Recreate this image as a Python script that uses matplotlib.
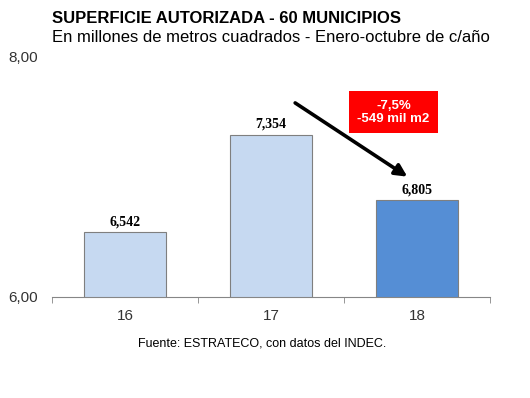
import matplotlib
matplotlib.use("Agg")
import matplotlib.pyplot as plt

years = ["16", "17", "18"]
values = [6.542, 7.354, 6.805]
value_labels = ["6,542", "7,354", "6,805"]
bar_colors = ["#C6D9F1", "#C6D9F1", "#558ED5"]
yticks = [6.0, 8.0]
ytick_labels = ["6,00", "8,00"]

plt.rcParams['font.family'] = ['Liberation Sans', 'DejaVu Sans']

fig = plt.figure(figsize=(5.3, 3.98), dpi=100)
ax = fig.add_axes([0.098, 0.2538, 0.8264, 0.603])

x = range(len(years))
ax.bar(x, values, width=0.56, color=bar_colors, edgecolor="#7F7F7F", linewidth=0.8)
for i, v in enumerate(values):
    ax.text(i, v + 0.03, value_labels[i], ha="center", va="bottom",
            family="Liberation Serif", fontweight="bold", fontsize=10)

ax.set_ylim(6.0, 8.0)
ax.set_xlim(-0.5, 2.5)
ax.set_yticks(yticks)
ax.set_yticklabels(ytick_labels, fontsize=11, color="#333333")
ax.set_xticks(x)
ax.set_xticklabels(years, fontsize=11, color="#333333")
ax.set_xticks([-0.5, 0.5, 1.5, 2.5], minor=True)
ax.tick_params(axis="x", which="major", length=0, pad=9)
ax.tick_params(axis="x", which="minor", length=4, color="#868686", direction="out")
ax.tick_params(axis="y", length=0, pad=10)
for s in ["top", "right", "left"]:
    ax.spines[s].set_visible(False)
ax.spines["bottom"].set_color("#868686")

# arrow and change box
ax.annotate("", xy=(1.95, 6.99), xytext=(1.15, 7.63),
            arrowprops=dict(arrowstyle="-|>", color="black", lw=2.6, mutation_scale=18),
            annotation_clip=False)
ax.text(1.84, 7.54, "-7,5%\n-549 mil m2", ha="center", va="center", color="white",
        fontweight="bold", fontsize=9.5, linespacing=1.1,
        bbox=dict(boxstyle="square,pad=0.65", fc="#FF0000", ec="none"))

fig.text(0.098, 0.953, "SUPERFICIE AUTORIZADA - 60 MUNICIPIOS", fontsize=12,
         fontweight="bold", va="center")
fig.text(0.098, 0.905, "En millones de metros cuadrados - Enero-octubre de c/año",
         fontsize=12, va="center")
fig.text(0.495, 0.137, "Fuente: ESTRATECO, con datos del INDEC.", fontsize=9,
         ha="center", va="center")

fig.savefig("out.png", dpi=100)
